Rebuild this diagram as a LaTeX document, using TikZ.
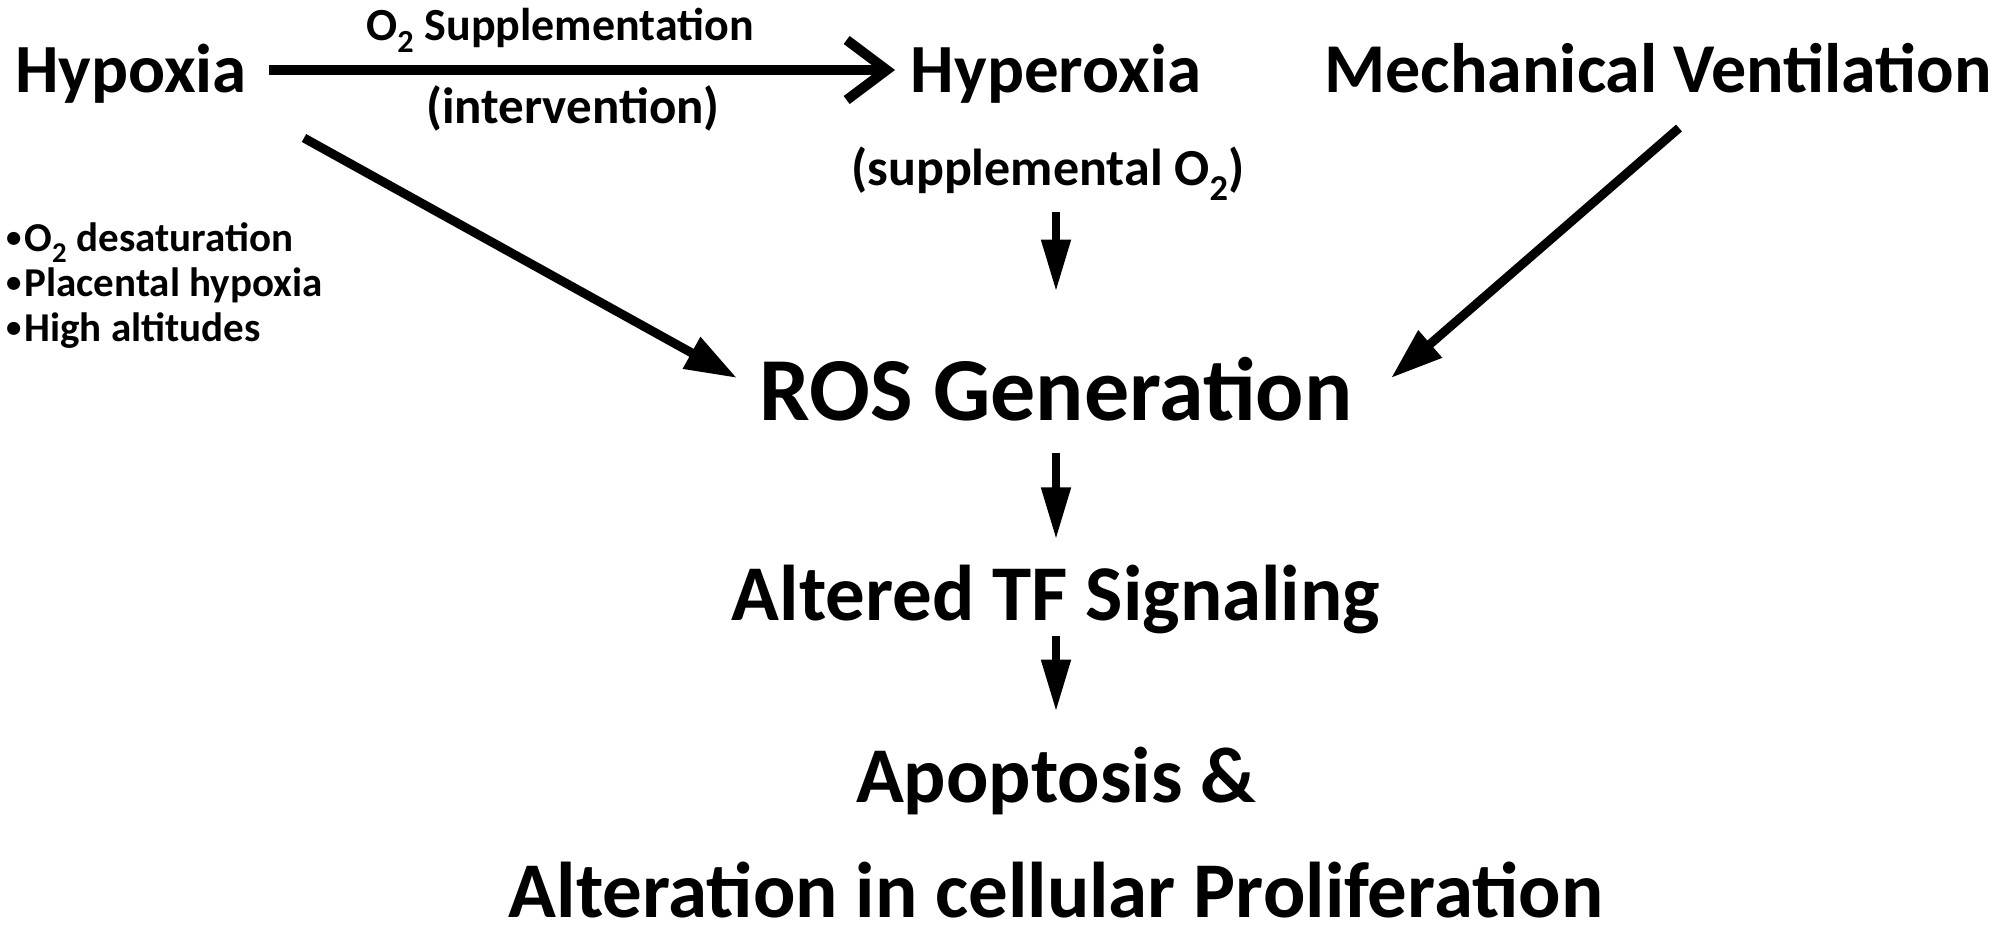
\documentclass[tikz,border=0pt]{standalone}
\usepackage{fontspec}
\setmainfont{Carlito}
\usepackage{tikz}
\usetikzlibrary{arrows.meta, positioning}
\newcommand{\smallbullet}{\raisebox{0.1em}{\scalebox{0.75}{\textbullet}}\hspace{3pt}}

\begin{document}
\begin{tikzpicture}[x=1pt, y=-1pt,
    every node/.style={inner sep=0pt, font=\bfseries},
    toplabel/.style={anchor=base, font=\fontsize{69}{80}\selectfont\bfseries},
    roslabel/.style={anchor=base, font=\fontsize{90}{100}\selectfont\bfseries},
    steplabel/.style={font=\fontsize{79}{115}\selectfont\bfseries, align=center},
    smalllabel/.style={anchor=base, font=\fontsize{52}{60}\selectfont\bfseries},
    bulletlabel/.style={font=\fontsize{41}{45}\selectfont\bfseries, align=left},
    barbarrow/.style={line width=10pt, -{Straight Barb[length=40pt, width=60pt, line width=10pt]}},
    diagarrow/.style={line width=9pt, -{Triangle[length=52pt, width=34pt]}},
    downarrow/.style={line width=8pt, -{Triangle[length=52pt, width=28pt]}}]
  \useasboundingbox (0,0) rectangle (2010,940);
  % Top row
  \node[toplabel] (hypoxia) at (131,92) {Hypoxia};
  \node[toplabel] (hyperoxia) at (1056,92) {Hyperoxia};
  \node[toplabel, font=\fontsize{70}{80}\selectfont\bfseries] (mechvent) at (1658,92) {Mechanical Ventilation};
  \node[smalllabel, font=\fontsize{46}{60}\selectfont\bfseries] (supp) at (560,40) {O\textsubscript{2} Supplementation};
  \node[smalllabel, font=\fontsize{51}{60}\selectfont\bfseries] (interv) at (573,123) {(intervention)};
  \node[smalllabel] (suppO2) at (1048,185) {(supplemental O\textsubscript{2})};
  % Bullets
  \node[bulletlabel, anchor=west] (causes) at (6,286)
    {\smallbullet O\textsubscript{2} desaturation\\
     \smallbullet Placental hypoxia\\
     \smallbullet High altitudes};
  % Cascade
  \node[roslabel] (ros) at (1056,420) {ROS Generation};
  \node[steplabel, anchor=base] (tf) at (1056,620) {Altered TF Signaling};
  \node[steplabel, anchor=south] (apop) at (1056,918)
    {Apoptosis \&\\ Alteration in cellular Proliferation};
  % Arrow end points
  \coordinate (hypo-r) at (269,70);
  \coordinate (hyper-l) at (895,70);
  \coordinate (hypo-d) at (304,138);
  \coordinate (ros-l) at (737,378);
  \coordinate (mech-d) at (1679,128);
  \coordinate (ros-r) at (1391,378);
  % Arrows
  \draw[barbarrow] (hypo-r) -- (hyper-l);
  \draw[diagarrow] (hypo-d) -- (ros-l);
  \draw[diagarrow] (mech-d) -- (ros-r);
  \draw[downarrow, shorten <=11pt, shorten >=65pt] (ros.north |- suppO2.south) -- (ros.north);
  \draw[downarrow, shorten <=32pt, shorten >=25pt] (ros.south) -- (ros.south |- tf.north);
  \draw[downarrow, shorten <=2pt, shorten >=35pt] (tf.south) -- (tf.south |- apop.north);
\end{tikzpicture}
\end{document}
